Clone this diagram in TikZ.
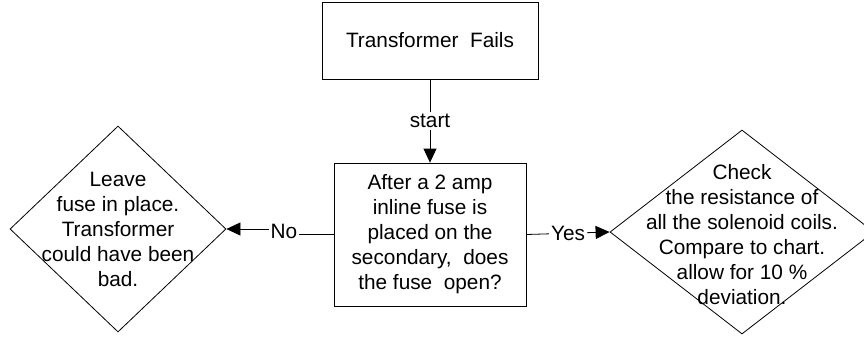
\documentclass[tikz,border=0pt]{standalone}
\usepackage{fontspec}
\setmainfont{Liberation Sans}
\usetikzlibrary{shapes.geometric,arrows.meta}

\begin{document}
\begin{tikzpicture}[x=1pt,y=-1pt,->,>={Triangle[length=14pt,width=13pt]},line width=0.8pt]
  \tikzstyle{process}=[draw,rectangle,inner sep=0pt,font=\fontsize{20.8}{25}\selectfont,align=center]
  \tikzstyle{decision}=[draw,diamond,inner sep=0pt]
  \tikzstyle{txt}=[inner sep=0pt,font=\fontsize{20.8}{25}\selectfont,align=center]
  \tikzstyle{lbl}=[fill=white,inner sep=2pt,font=\fontsize{20.8}{25}\selectfont]
  \clip (0,0) rectangle (864,341);

  \node[process, minimum width=216pt, minimum height=77pt] (fails) at (430,40.5) {Transformer\ \ Fails};
  \node[process, minimum width=192pt, minimum height=143pt] (fuse) at (430,234.5)
    {After a 2 amp\\inline fuse is\\placed on the\\secondary,\ \ does\\the fuse\ \ open?};
  \node[decision, minimum width=216pt, minimum height=206pt] (leave) at (118,229) {};
  \node[txt] (leavetxt) at (leave) {Leave\\fuse in place.\\Transformer\\could have been\\bad.};
  \node[decision, minimum width=264pt, minimum height=204pt] (check) at (742,232) {};
  \node[txt] (checktxt) at (742,234.5) {Check\\the resistance of\\all the solenoid coils.\\Compare to chart.\\allow for 10 \%\\deviation.};

  \draw (fails) -- node[lbl] (startlbl) {start} (fuse);
  \coordinate (noturn) at (284,231);
  \draw (fuse.west) -| (noturn) |- (leave.east);
  \node[lbl] (nolbl) at (noturn) {No};
  \draw (fuse.east) -- node[lbl] (yeslbl) {Yes} (check.west);
\end{tikzpicture}
\end{document}
